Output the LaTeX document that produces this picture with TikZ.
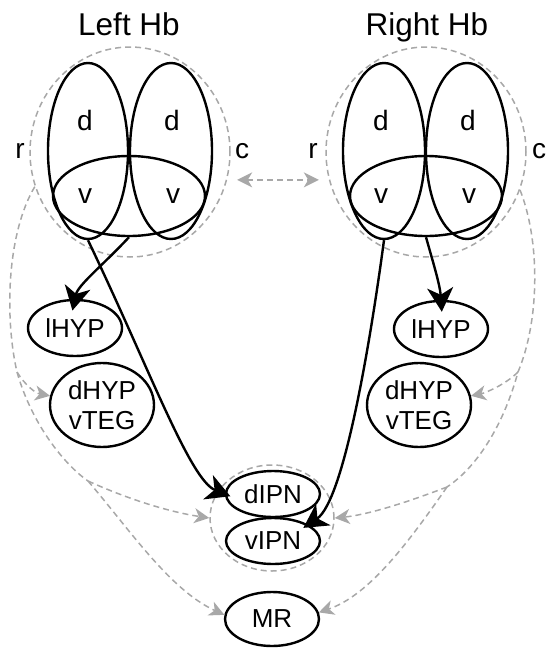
\documentclass[tikz,border=0pt]{standalone}
\usepackage{fontspec}
\setmainfont{Liberation Sans}
\usetikzlibrary{arrows.meta,shapes.geometric}
\definecolor{dashgray}{RGB}{168,168,168}

\begin{document}
\begin{tikzpicture}[x=0.5pt,y=-0.5pt,
  region/.style={ellipse, draw, line width=1.2pt, inner sep=0pt},
  nucleus/.style={ellipse, draw, line width=1.2pt, inner sep=0pt, align=center,
    font=\fontsize{13}{15}\selectfont},
  dashline/.style={draw=dashgray, line width=0.75pt, dash pattern=on 3pt off 2pt},
  halo/.style={ellipse, dashline, inner sep=0pt},
  link/.style={dashline, -{Stealth[length=7.5pt,width=7.5pt,inset=2.2pt]}},
  twoway/.style={dashline, {Stealth[length=7.5pt,width=7.5pt,inset=2.2pt]}-{Stealth[length=7.5pt,width=7.5pt,inset=2.2pt]}},
  proj/.style={line width=1.2pt, -{Stealth[length=12pt,width=13pt,inset=3.5pt]}},
  lbl/.style={anchor=base, inner sep=0pt, font=\fontsize{14}{16}\selectfont},
  title/.style={anchor=base, inner sep=0pt, font=\fontsize{15.75}{18}\selectfont}
]
\useasboundingbox (0,0) rectangle (547,649);

% ---------- left habenula ----------
\node[halo, minimum width=100pt, minimum height=105pt] (hbL) at (130,152) {};
\node[region, minimum width=40pt, minimum height=88pt] (dL1) at (88,151) {};
\node[region, minimum width=41pt, minimum height=88pt] (dL2) at (171,151) {};
\node[region, minimum width=76pt, minimum height=40pt] (vL) at (129,196) {};
\node[title] (tL) at (129,35) {Left Hb};
\node[lbl] (dL1t) at (85,130) {d};
\node[lbl] (dL2t) at (172,130) {d};
\node[lbl] (vL1t) at (85,203) {v};
\node[lbl] (vL2t) at (173,203) {v};
\node[lbl] (rL) at (20,158) {r};
\node[lbl] (cL) at (242,158) {c};

% ---------- right habenula ----------
\node[halo, minimum width=100pt, minimum height=105pt] (hbR) at (426,152) {};
\node[region, minimum width=41pt, minimum height=88pt] (dR1) at (384,151) {};
\node[region, minimum width=41pt, minimum height=88pt] (dR2) at (467,151) {};
\node[region, minimum width=76pt, minimum height=40pt] (vR) at (426,196) {};
\node[title] (tR) at (427,35) {Right Hb};
\node[lbl] (dR1t) at (381,130) {d};
\node[lbl] (dR2t) at (468,130) {d};
\node[lbl] (vR1t) at (381,203) {v};
\node[lbl] (vR2t) at (469,203) {v};
\node[lbl] (rR) at (313,158) {r};
\node[lbl] (cR) at (539,158) {c};

% ---------- target nuclei ----------
\node[nucleus, minimum width=47pt, minimum height=28pt] (lhypL) at (75,328) {lHYP};
\node[nucleus, minimum width=52pt, minimum height=42pt] (dhypL) at (102,405) {dHYP\\vTEG};
\node[nucleus, minimum width=47pt, minimum height=28pt] (lhypR) at (441,329) {lHYP};
\node[nucleus, minimum width=52pt, minimum height=42pt] (dhypR) at (419,405) {dHYP\\vTEG};
\node[halo, minimum width=62pt, minimum height=53pt] (ipn) at (272,518) {};
\node[nucleus, minimum width=47pt, minimum height=23pt] (dipn) at (273,494) {dIPN};
\node[nucleus, minimum width=47pt, minimum height=23pt] (vipn) at (273,541) {vIPN};
\node[nucleus, minimum width=47pt, minimum height=27pt] (mr) at (272,619) {MR};

% ---------- solid projections ----------
\draw[proj, shorten >=-6pt] (vL.south) .. controls (102,266) and (78,285) .. (lhypL.north);
\draw[proj, shorten >=-3pt] (dL1.south) .. controls (150,370) and (190,480) .. (dipn.west);
\draw[proj, shorten >=-3pt] (dR1.south) .. controls (372,330) and (345,500) .. (vipn.25);
\draw[proj, shorten >=-6pt] (vR.south) .. controls (433,262) and (440,285) .. (lhypR.north);

% ---------- dashed connections ----------
\draw[twoway, shorten <=5pt, shorten >=5pt] (hbL.-16) -- (hbR.196);

\coordinate (forkL1) at (17,372);
\coordinate (forkL2) at (88,481);
\coordinate (forkR1) at (518,372);
\coordinate (forkR2) at (447,487);

\draw[dashline] (hbL.200) .. controls (6,235) and (5,320) .. (forkL1)
  .. controls (32,425) and (65,465) .. (forkL2);
\draw[link] (forkL1) .. controls (25,385) and (35,393) .. (dhypL.170);
\draw[link] (forkL2) .. controls (130,500) and (170,512) .. (ipn.west);
\draw[link] (forkL2) .. controls (130,530) and (170,590) .. (mr.175);

\draw[dashline] (hbR.-22) .. controls (540,240) and (540,320) .. (forkR1)
  .. controls (505,420) and (480,465) .. (forkR2);
\draw[link] (forkR1) .. controls (505,385) and (485,393) .. (dhypR.10);
\draw[link] (forkR2) .. controls (400,505) and (365,515) .. (ipn.east);
\draw[link] (forkR2) .. controls (410,540) and (370,595) .. (mr.8);
\end{tikzpicture}
\end{document}
